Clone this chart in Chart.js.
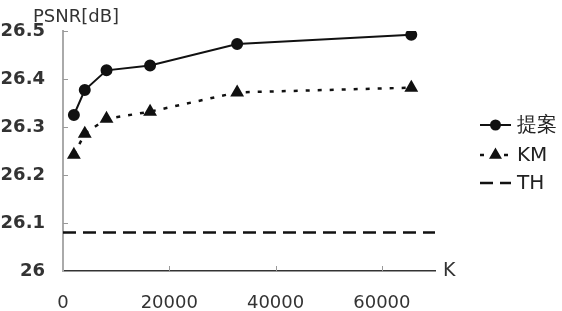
<!DOCTYPE html>
<html>
<head>
<meta charset="utf-8">
<script src="https://cdn.jsdelivr.net/npm/chart.js@4/dist/chart.umd.min.js"></script>
<style>
  html, body { margin: 0; padding: 0; background: #fff; }
  #wrap { width: 562px; height: 311px; }
</style>
</head>
<body>
<div id="wrap"><canvas id="psnrChart" width="562" height="311"></canvas></div>
<script>
// datos
const kValues = [2048, 4096, 8192, 16384, 32768, 65536];
const proposed = [26.325, 26.377, 26.418, 26.428, 26.473, 26.492];
const kmValues = [26.242, 26.286, 26.317, 26.332, 26.372, 26.382];
const thK = [0, 70000];
const thValues = [26.08, 26.08];
const xTicks = [0, 20000, 40000, 60000];
const yTicks = [26, 26.1, 26.2, 26.3, 26.4, 26.5];
const seriesNames = ["提案", "KM", "TH"];
const yTitle = "PSNR[dB]";
const xTitle = "K";

const INK = "#111";
const FONT = "'DejaVu Sans', sans-serif";

function pts(xs, ys) {
    return xs.map((x, i) => ({ x: x, y: ys[i] }));
}

// ticks hacia dentro + títulos + leyenda
const extras = {
    id: "extras",
    afterDraw(chart) {
        const ctx = chart.ctx;
        const xs = chart.scales.x, ys = chart.scales.y;
        const area = chart.chartArea;
        ctx.save();

        ctx.strokeStyle = "#999";
        ctx.lineWidth = 1;
        xs.ticks.forEach(t => {
            if (t.value === 0) return;
            const px = Math.round(xs.getPixelForValue(t.value)) + 0.5;
            ctx.beginPath();
            ctx.moveTo(px, area.bottom);
            ctx.lineTo(px, area.bottom - 5);
            ctx.stroke();
        });
        ys.ticks.forEach(t => {
            if (t.value === 26) return;
            const py = Math.round(ys.getPixelForValue(t.value)) + 0.5;
            ctx.beginPath();
            ctx.moveTo(area.left, py);
            ctx.lineTo(area.left + 5, py);
            ctx.stroke();
        });

        ctx.fillStyle = "#333";
        ctx.font = "18px " + FONT;
        ctx.textBaseline = "alphabetic";
        ctx.textAlign = "left";
        ctx.fillText(yTitle, 33, 22);
        ctx.font = "19px " + FONT;
        ctx.textBaseline = "middle";
        ctx.fillText(xTitle, area.right + 8, area.bottom);

        // leyenda
        const rowsY = [125, 155, 183];
        chart.data.datasets.forEach((ds, i) => {
            const y = rowsY[i];
            ctx.strokeStyle = INK;
            ctx.lineWidth = ds.borderWidth;
            ctx.setLineDash(ds.borderDash || []);
            ctx.beginPath();
            ctx.moveTo(480, y);
            ctx.lineTo(511, y);
            ctx.stroke();
            ctx.setLineDash([]);
            if (ds.pointRadius > 0) {
                ctx.fillStyle = INK;
                ctx.strokeStyle = INK;
                Chart.helpers.drawPoint(ctx, {
                    pointStyle: ds.pointStyle,
                    radius: ds.pointRadius - 0.5,
                    rotation: 0,
                    borderWidth: 1
                }, 495.5, y);
            }
            ctx.fillStyle = "#222";
            ctx.font = "20px " + FONT;
            ctx.textBaseline = "middle";
            ctx.fillText(ds.label, 517, y + 1);
        });
        ctx.restore();
    }
};

const ctx = document.getElementById("psnrChart").getContext("2d");
new Chart(ctx, {
    type: "line",
    data: {
        datasets: [
            {
                label: seriesNames[0],
                data: pts(kValues, proposed),
                borderColor: INK,
                backgroundColor: INK,
                pointBackgroundColor: INK,
                pointBorderColor: INK,
                borderWidth: 2,
                pointStyle: "circle",
                pointRadius: 5,
                tension: 0
            },
            {
                label: seriesNames[1],
                data: pts(kValues, kmValues),
                borderColor: INK,
                backgroundColor: INK,
                pointBackgroundColor: INK,
                pointBorderColor: INK,
                borderWidth: 2.5,
                borderDash: [4, 8],
                pointStyle: "triangle",
                pointRadius: 5.5,
                tension: 0
            },
            {
                label: seriesNames[2],
                data: pts(thK, thValues),
                borderColor: INK,
                backgroundColor: INK,
                borderWidth: 2.5,
                borderDash: [13, 7],
                pointRadius: 0,
                tension: 0
            }
        ]
    },
    options: {
        responsive: false,
        animation: false,
        layout: { padding: { left: 0, right: 127, top: 31, bottom: 0 } },
        plugins: { legend: { display: false }, tooltip: { enabled: false } },
        scales: {
            x: {
                type: "linear",
                min: 0,
                max: 70000,
                afterFit(s) { s.height = 40; },
                afterBuildTicks(s) { s.ticks = xTicks.map(v => ({ value: v })); },
                ticks: {
                    padding: 22,
                    color: "#333",
                    font: { family: FONT, size: 18 },
                    maxRotation: 0,
                    autoSkip: false,
                    callback: v => String(v)
                },
                grid: { drawOnChartArea: false, drawTicks: false },
                border: { color: "#333", width: 1.5 }
            },
            y: {
                min: 26,
                max: 26.5,
                afterFit(s) { s.width = 63; },
                afterBuildTicks(s) { s.ticks = yTicks.map(v => ({ value: v })); },
                ticks: {
                    padding: 18,
                    color: "#333",
                    autoSkip: false,
                    font: { family: FONT, size: 18, weight: "bold" },
                    callback: v => String(Math.round(v * 10) / 10)
                },
                grid: { drawOnChartArea: false, drawTicks: false },
                border: { color: "#aaa", width: 2 }
            }
        }
    },
    plugins: [extras]
});
</script>
</body>
</html>
